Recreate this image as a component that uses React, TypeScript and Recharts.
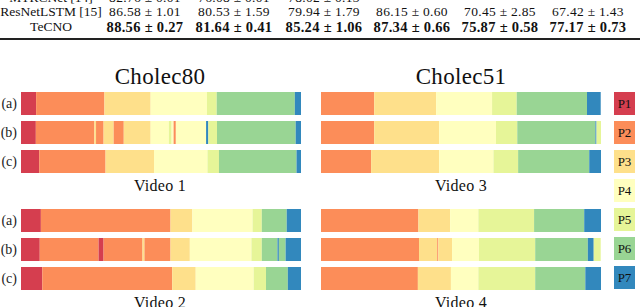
import { BarChart, Bar, XAxis, YAxis, Cell } from "recharts";

const COLORS: Record<number, string> = {
  1: "#d53e4f",
  2: "#fc8d59",
  3: "#fee08b",
  4: "#ffffbf",
  5: "#e6f598",
  6: "#99d594",
  7: "#3288bd",
};

const rowLabels = ["(a)", "(b)", "(c)"];
const legendLabels = ["P1", "P2", "P3", "P4", "P5", "P6", "P7"];

// table values
const tableMethods = ["MTRCNet [14]", "ResNetLSTM [15]", "TeCNO"];
const mtrcnetScores = ["82.76 ± 0.01", "76.08 ± 0.01", "78.02 ± 0.13", "", "", ""];
const resnetScores = ["86.58 ± 1.01", "80.53 ± 1.59", "79.94 ± 1.79", "86.15 ± 0.60", "70.45 ± 2.85", "67.42 ± 1.43"];
const tecnoScores = ["88.56 ± 0.27", "81.64 ± 0.41", "85.24 ± 1.06", "87.34 ± 0.66", "75.87 ± 0.58", "77.17 ± 0.73"];

// phase sequence and lengths (% of video) per row: (a), (b), (c)
const video1Phases = [
  [1, 2, 3, 4, 5, 6, 7],
  [1, 2, 3, 2, 3, 2, 3, 4, 5, 4, 2, 4, 7, 5, 6, 7],
  [1, 2, 3, 4, 5, 6, 7],
];
const video1Lengths = [
  [5.4, 24.4, 16.5, 20.1, 3.5, 27.9, 2.2],
  [5.3, 20.9, 0.6, 2.7, 3.6, 3.6, 9.6, 6.5, 1.0, 0.7, 0.8, 10.8, 0.8, 3.1, 28.1, 2.0],
  [6.5, 23.7, 17.3, 19.1, 4.1, 27.7, 1.7],
];

const video2Phases = [
  [1, 2, 3, 4, 5, 6, 7],
  [1, 2, 1, 2, 3, 2, 3, 4, 5, 6, 7, 6, 7],
  [1, 2, 3, 4, 5, 6, 7],
];
const video2Lengths = [
  [7.1, 46.3, 7.8, 21.5, 3.3, 8.9, 5.1],
  [6.7, 21.0, 1.8, 13.9, 0.7, 9.3, 6.9, 22.0, 3.7, 5.6, 0.5, 2.4, 5.5],
  [7.6, 46.4, 8.4, 20.7, 4.4, 7.8, 4.8],
];

const video3Phases = [
  [2, 3, 4, 5, 6, 7],
  [2, 3, 4, 5, 6, 7, 5],
  [2, 3, 4, 5, 6, 7],
];
const video3Lengths = [
  [19.0, 22.1, 20.0, 8.8, 25.1, 4.9],
  [19.0, 23.2, 20.3, 7.6, 27.9, 0.4, 1.7],
  [17.9, 24.3, 19.4, 8.8, 25.4, 4.3],
];

const video4Phases = [
  [2, 3, 4, 5, 6, 7],
  [2, 3, 2, 3, 4, 5, 6, 7, 5],
  [2, 3, 4, 5, 6, 7],
];
const video4Lengths = [
  [34.8, 11.3, 10.1, 19.9, 17.9, 6.1],
  [35.0, 6.5, 0.4, 4.9, 9.6, 20.1, 18.8, 2.1, 2.5],
  [34.6, 11.8, 9.8, 20.3, 17.9, 5.7],
];

function buildRows(lengths: number[][]) {
  return rowLabels.map((name, r) => {
    const row: Record<string, any> = { name };
    lengths[r].forEach((v, i) => {
      row["s" + i] = v;
    });
    return row;
  });
}

function VideoBars({ phases, lengths, labels, left, top }: {
  phases: number[][];
  lengths: number[][];
  labels: boolean;
  left: number;
  top: number;
}) {
  const rows = buildRows(lengths);
  const n = Math.max(...lengths.map((l) => l.length));
  const keys = Array.from({ length: n }, (_, i) => "s" + i);
  const axisW = labels ? 21 : 0;
  return (
    <div style={{ position: "absolute", left: left - axisW, top }}>
      <BarChart
        width={280 + axisW}
        height={87}
        data={rows}
        layout="vertical"
        barSize={23}
        margin={{ top: 0, right: 0, bottom: 0, left: 0 }}
      >
        <XAxis type="number" domain={[0, 100]} hide allowDataOverflow />
        <YAxis
          type="category"
          dataKey="name"
          hide={!labels}
          width={axisW}
          axisLine={false}
          tickLine={false}
          tickSize={0}
          tickMargin={4}
          tick={{ fontSize: 14, fill: "#222", fontFamily: '"Liberation Serif", serif' }}
        />
        {keys.map((k, i) => (
          <Bar key={k} dataKey={k} stackId="v" isAnimationActive={false}>
            {rows.map((_, r) => (
              <Cell key={r} fill={COLORS[phases[r][i]] || "transparent"} />
            ))}
          </Bar>
        ))}
      </BarChart>
    </div>
  );
}

const colCenters = [145, 234, 324, 412, 500, 588];

function TableRow({ label, scores, y, bold }: { label: string; scores: string[]; y: number; bold?: boolean }) {
  return (
    <>
      <div style={{ position: "absolute", left: 0, width: 102, top: y, textAlign: "center", fontSize: 13.5, lineHeight: "14px", whiteSpace: "nowrap" }}>
        {label}
      </div>
      {scores.map((s, i) => (
        <div
          key={i}
          style={{
            position: "absolute",
            left: colCenters[i] - 50,
            width: 100,
            top: y,
            textAlign: "center",
            fontSize: bold ? 14.5 : 13.5,
            fontWeight: bold ? 700 : 400,
            letterSpacing: 0.3,
            lineHeight: "14px",
            whiteSpace: "nowrap",
          }}
        >
          {s}
        </div>
      ))}
    </>
  );
}

export default function App() {
  const centered = (text: string, cx: number, cy: number, size: number) => (
    <div
      style={{
        position: "absolute",
        left: cx - 80,
        width: 160,
        top: cy - size * 0.6,
        textAlign: "center",
        fontSize: size,
        lineHeight: `${Math.round(size * 1.2)}px`,
        color: "#111",
        letterSpacing: 0.3,
      }}
    >
      {text}
    </div>
  );
  return (
    <div
      style={{
        position: "absolute",
        left: 0,
        top: 0,
        width: 640,
        height: 307,
        overflow: "hidden",
        background: "#fff",
        fontFamily: '"Liberation Serif", serif',
        color: "#111",
      }}
    >
      <TableRow label={tableMethods[0]} scores={mtrcnetScores} y={-9} />
      <TableRow label={tableMethods[1]} scores={resnetScores} y={5} />
      <TableRow label={tableMethods[2]} scores={tecnoScores} y={20} bold />
      <div style={{ position: "absolute", left: 0, width: 640, top: 38, height: 1.5, background: "#222" }} />

      {centered("Cholec80", 160, 77, 23)}
      {centered("Cholec51", 461, 77, 23)}

      <VideoBars phases={video1Phases} lengths={video1Lengths} labels left={21} top={89} />
      <VideoBars phases={video3Phases} lengths={video3Lengths} labels={false} left={321} top={89} />
      <VideoBars phases={video2Phases} lengths={video2Lengths} labels left={21} top={206} />
      <VideoBars phases={video4Phases} lengths={video4Lengths} labels={false} left={321} top={206} />

      {centered("Video 1", 160, 186, 16)}
      {centered("Video 3", 461, 186, 16)}
      {centered("Video 2", 160, 303, 16)}
      {centered("Video 4", 461, 303, 16)}

      {legendLabels.map((p, i) => (
        <div
          key={p}
          style={{
            position: "absolute",
            left: 614,
            top: 92 + i * 29,
            width: 21,
            height: 23,
            background: COLORS[i + 1],
            fontSize: 13,
            lineHeight: "23px",
            textAlign: "center",
            color: "#111",
          }}
        >
          {p}
        </div>
      ))}
    </div>
  );
}
